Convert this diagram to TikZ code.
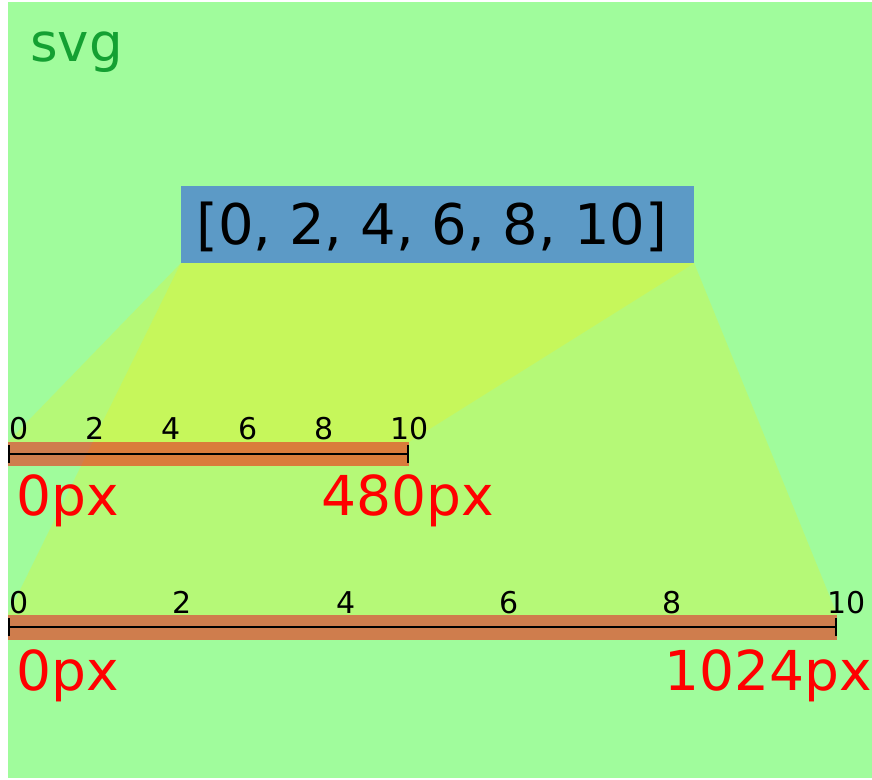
\documentclass[tikz,border=0pt]{standalone}
\usepackage{fontspec}
\setmainfont{DejaVu Sans}
\pgfdeclarelayer{background}
\pgfsetlayers{background,main}
\definecolor{bggreen}{RGB}{160,252,156}
\definecolor{boxblue}{RGB}{92,154,198}
\definecolor{svggreen}{RGB}{20,160,50}
\tikzset{
  bluebox/.style={fill=boxblue, inner sep=0pt, draw=none},
  scalebar/.style={fill=red, fill opacity=0.5, inner sep=0pt, draw=none},
  mapping/.style={fill=yellow, fill opacity=0.23},
  axisline/.style={draw=black, line width=2.5pt},
  ticklabel/.style={anchor=base west, inner sep=0pt, font=\fontsize{30}{34}\selectfont},
  pxlabel/.style={anchor=base west, inner sep=0pt, text=red, font=\fontsize{55}{60}\selectfont},
}
\begin{document}
\begin{tikzpicture}[x=1pt,y=-1pt]
\useasboundingbox (0,0) rectangle (872,779);
\begin{pgfonlayer}{background}
  \fill[bggreen] (8,2) rectangle (872,778);
\end{pgfonlayer}
% title
\node[anchor=base west, inner sep=0pt, text=svggreen, font=\fontsize{53}{58}\selectfont] (title) at (30,61) {svg};
% domain box
\node[bluebox, minimum width=513pt, minimum height=77pt] (box) at (437.5,224.5) {};
\node[anchor=base west, inner sep=0pt, font=\fontsize{56}{60}\selectfont] (domain) at (196,244) {[0, 2, 4, 6, 8, 10]};
% scale bars
\node[scalebar, minimum width=401pt, minimum height=24pt] (bar1) at (208.5,454) {};
\node[scalebar, minimum width=829pt, minimum height=25pt] (bar2) at (422.5,627.5) {};
% mapping polygons
\begin{pgfonlayer}{background}
  \fill[mapping] (box.south west) -- (box.south east) -- (bar1.north east) -- (bar1.north west) -- cycle;
  \fill[mapping] (box.south west) -- (box.south east) -- (bar2.north east) -- (bar2.north west) -- cycle;
\end{pgfonlayer}
% axis 1
\coordinate (a1s) at (9,454);
\coordinate (a1e) at (408,454);
\draw[axisline] (a1s) -- (a1e);
\draw[axisline] ([yshift=-9pt]a1s) -- ([yshift=9pt]a1s);
\draw[axisline] ([yshift=-9pt]a1e) -- ([yshift=9pt]a1e);
% axis 2
\coordinate (a2s) at (9,627);
\coordinate (a2e) at (836,627);
\draw[axisline] (a2s) -- (a2e);
\draw[axisline] ([yshift=-9pt]a2s) -- ([yshift=9pt]a2s);
\draw[axisline] ([yshift=-9pt]a2e) -- ([yshift=9pt]a2e);
% tick labels axis 1
\node[ticklabel] (t10) at (9,439) {0};
\node[ticklabel] (t12) at (85.3,439) {2};
\node[ticklabel] (t14) at (161.6,439) {4};
\node[ticklabel] (t16) at (237.9,439) {6};
\node[ticklabel] (t18) at (314.2,439) {8};
\node[ticklabel] (t110) at (390.5,439) {10};
% tick labels axis 2
\node[ticklabel] (t20) at (9,613) {0};
\node[ticklabel] (t22) at (172.4,613) {2};
\node[ticklabel] (t24) at (335.8,613) {4};
\node[ticklabel] (t26) at (499.2,613) {6};
\node[ticklabel] (t28) at (662.6,613) {8};
\node[ticklabel] (t210) at (827,613) {10};
% range labels
\node[pxlabel] (r10) at (16,515) {0px};
\node[pxlabel] (r1e) at (321,515) {480px};
\node[pxlabel] (r20) at (16,690) {0px};
\node[pxlabel] (r2e) at (664,690) {1024px};
\end{tikzpicture}
\end{document}
